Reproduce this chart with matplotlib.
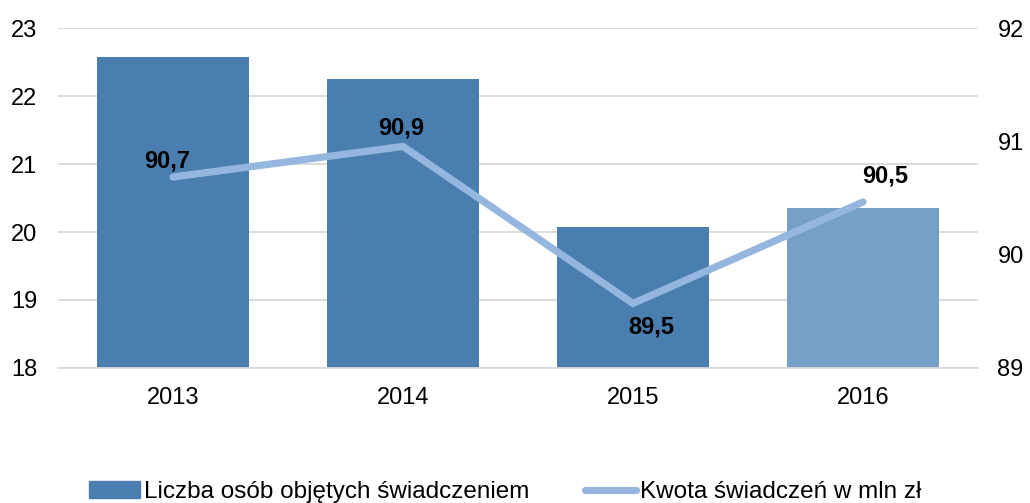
import matplotlib.pyplot as plt
from matplotlib.lines import Line2D
from matplotlib.patches import Patch

plt.rcParams['font.family'] = ['Liberation Sans', 'DejaVu Sans']

years = ['2013', '2014', '2015', '2016']
liczba_osob = [22.58, 22.25, 20.07, 20.35]
kwota = [90.685, 90.955, 89.57, 90.465]
kwota_labels = ['90,7', '90,9', '89,5', '90,5']

bar_colors = ['#4a7eaf', '#4a7eaf', '#4a7eaf', '#76a0c8']
line_color = '#95b7df'

fig = plt.figure(figsize=(10.3, 5.03), dpi=100)
ax = fig.add_axes([0.0563, 0.2684, 0.8932, 0.6759])
x = range(len(years))

ax.bar(x, [v - 18 for v in liczba_osob], bottom=18, width=0.665,
       color=bar_colors, zorder=2)
ax.set_ylim(18, 23)
ax.set_xlim(-0.5, 3.5)
ax.set_yticks(range(18, 24))
ax.set_xticks(list(x))
ax.set_xticklabels(years)
ax.grid(axis='y', color='#d9d9d9', linewidth=1.3, zorder=0)
for s in ['top', 'right', 'left']:
    ax.spines[s].set_visible(False)
ax.spines['bottom'].set_color('#d9d9d9')
ax.spines['bottom'].set_linewidth(1.3)
ax.tick_params(length=0, labelsize=17, pad=15)
ax.tick_params(axis='x', pad=13.5)

ax2 = ax.twinx()
ax2.plot(x, kwota, color=line_color, linewidth=5.2, solid_capstyle='round',
         solid_joinstyle='miter', zorder=3)
ax2.set_ylim(89, 92)
ax2.set_yticks([89, 90, 91, 92])
for s in ax2.spines.values():
    s.set_visible(False)
ax2.tick_params(length=0, labelsize=17, pad=14)

# przesuniecia etykiet w pikselach
offsets = [(-6, 16), (-2, 18), (18, -24), (22, 26)]
for i, (v, lab) in enumerate(zip(kwota, kwota_labels)):
    ax2.annotate(lab, (i, v), xytext=offsets[i], textcoords='offset pixels',
                 ha='center', va='center', fontsize=17, fontweight='bold')

handles = [Patch(color='#4a7eaf'),
           Line2D([0], [0], color=line_color, linewidth=5.2, solid_capstyle='round')]
fig.legend(handles, ['Liczba osób objętych świadczeniem', 'Kwota świadczeń w mln zł'],
           loc='center', bbox_to_anchor=(0.4905, 0.021), ncol=2, frameon=False,
           fontsize=17.5, handlelength=2.1, handletextpad=0.15, columnspacing=2.3)

fig.savefig('out.png', dpi=100)
